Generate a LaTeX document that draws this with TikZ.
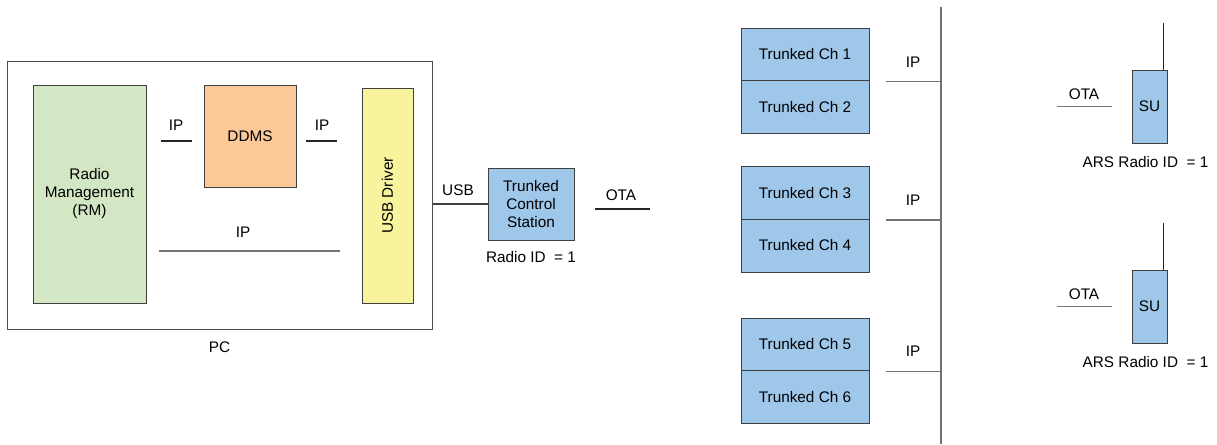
\documentclass[tikz,border=0pt]{standalone}
\usepackage{fontspec}
\setmainfont{Liberation Sans}
\usetikzlibrary{positioning,calc}
\definecolor{rmgreen}{HTML}{D4E7C5}
\definecolor{ddmsorange}{HTML}{FBC997}
\definecolor{usbyellow}{HTML}{F8F49E}
\definecolor{radioblue}{HTML}{9FC7EA}

\begin{document}
\begin{tikzpicture}[x=0.75pt, y=-0.75pt,
    font=\fontsize{11.5}{13.5}\selectfont,
    blk/.style={draw=black!75, line width=0.75pt, inner sep=0pt, align=center},
    wire/.style={draw=black!55, line width=0.9pt},
    lbl/.style={inner sep=1pt}]
    \useasboundingbox (0,0) rectangle (1217,444);

    % PC und Inhalt
    \node[blk, draw=black!70, minimum width=318.75pt, minimum height=201pt] (pc) at (219.5,195) {};
    \node[lbl, below=8pt of pc] (pclbl) {PC};
    \node[blk, fill=rmgreen, minimum width=84.75pt, minimum height=163.5pt] (rm) at (89.5,194) {Radio\\Management\\(RM)};
    \node[blk, fill=ddmsorange, minimum width=69pt, minimum height=76.5pt] (ddms) at (250,136) {DDMS};
    \node[blk, fill=usbyellow, minimum width=38.25pt, minimum height=161.25pt] (usb) at (387.5,195.5) {};
    \node[rotate=90] (usblbl) at (usb.center) {USB Driver};

    % IP Verbindungen im PC
    \coordinate (ipA1) at (161,141); \coordinate (ipA2) at (192,141);
    \coordinate (ipB1) at (306,141); \coordinate (ipB2) at (337,141);
    \coordinate (ipC1) at (159,251); \coordinate (ipC2) at (340,251);
    \draw[wire, draw=black!85] (ipA1) -- (ipA2);
    \draw[wire, draw=black!85] (ipB1) -- (ipB2);
    \draw[wire] (ipC1) -- (ipC2);
    \node[lbl] (ipA) at (176,125) {IP};
    \node[lbl] (ipB) at (322,125) {IP};
    \node[lbl] (ipC) at (243,232) {IP};

    % Kontrollstation
    \node[blk, fill=radioblue, minimum width=64.5pt, minimum height=54pt] (tcs) at (531,204) {Trunked\\Control\\Station};
    \node[lbl, below=7pt of tcs] (tcsid) {Radio ID~ = 1};
    \draw[wire, draw=black!75] (tcs.west) -- (tcs.west -| pc.east);
    \node[lbl] (usbw) at (458,190) {USB};
    \coordinate (otaA1) at (595,209); \coordinate (otaA2) at (650,209);
    \draw[wire, draw=black!85] (otaA1) -- (otaA2);
    \node[lbl] (otaA) at (621,195) {OTA};

    % Kanaele
    \foreach \n/\y in {1/54.5, 2/107, 3/193, 4/245.5, 5/344.5, 6/397} {
        \node[blk, fill=radioblue, minimum width=96pt, minimum height=39.75pt] (ch\n) at (805,\y) {Trunked Ch \n};
    }

    % IP Bus
    \coordinate (busT) at (941,7);
    \coordinate (busB) at (941,444);
    \draw[wire] (busT) -- (busB);
    \foreach \n/\ly in {1/62, 3/200, 5/351} {
        \coordinate (ip\n) at ([xshift=12pt]ch\n.south east);
        \draw[wire] (ip\n) -- (ip\n -| busT);
        \node[lbl] (iplbl\n) at (913,\ly) {IP};
    }

    % Teilnehmer
    \foreach \s/\y in {1/106.5, 2/306.5} {
        \node[blk, fill=radioblue, minimum width=26.25pt, minimum height=54.75pt] (su\s) at (1149.5,\y) {SU};
        \draw[draw=black!85, line width=0.75pt] ([xshift=-3pt]su\s.north east) -- ++(0,-47);
        \node[lbl, below=8.5pt of su\s, xshift=-3pt] (ars\s) {ARS Radio ID~ = 1};
        \coordinate (ota\s) at ([xshift=-15pt]su\s.west);
        \draw[wire] (ota\s) -- ++(-55,0);
        \node[lbl] (otalbl\s) at ($(ota\s)+(-27.5,-12)$) {OTA};
    }
\end{tikzpicture}
\end{document}
